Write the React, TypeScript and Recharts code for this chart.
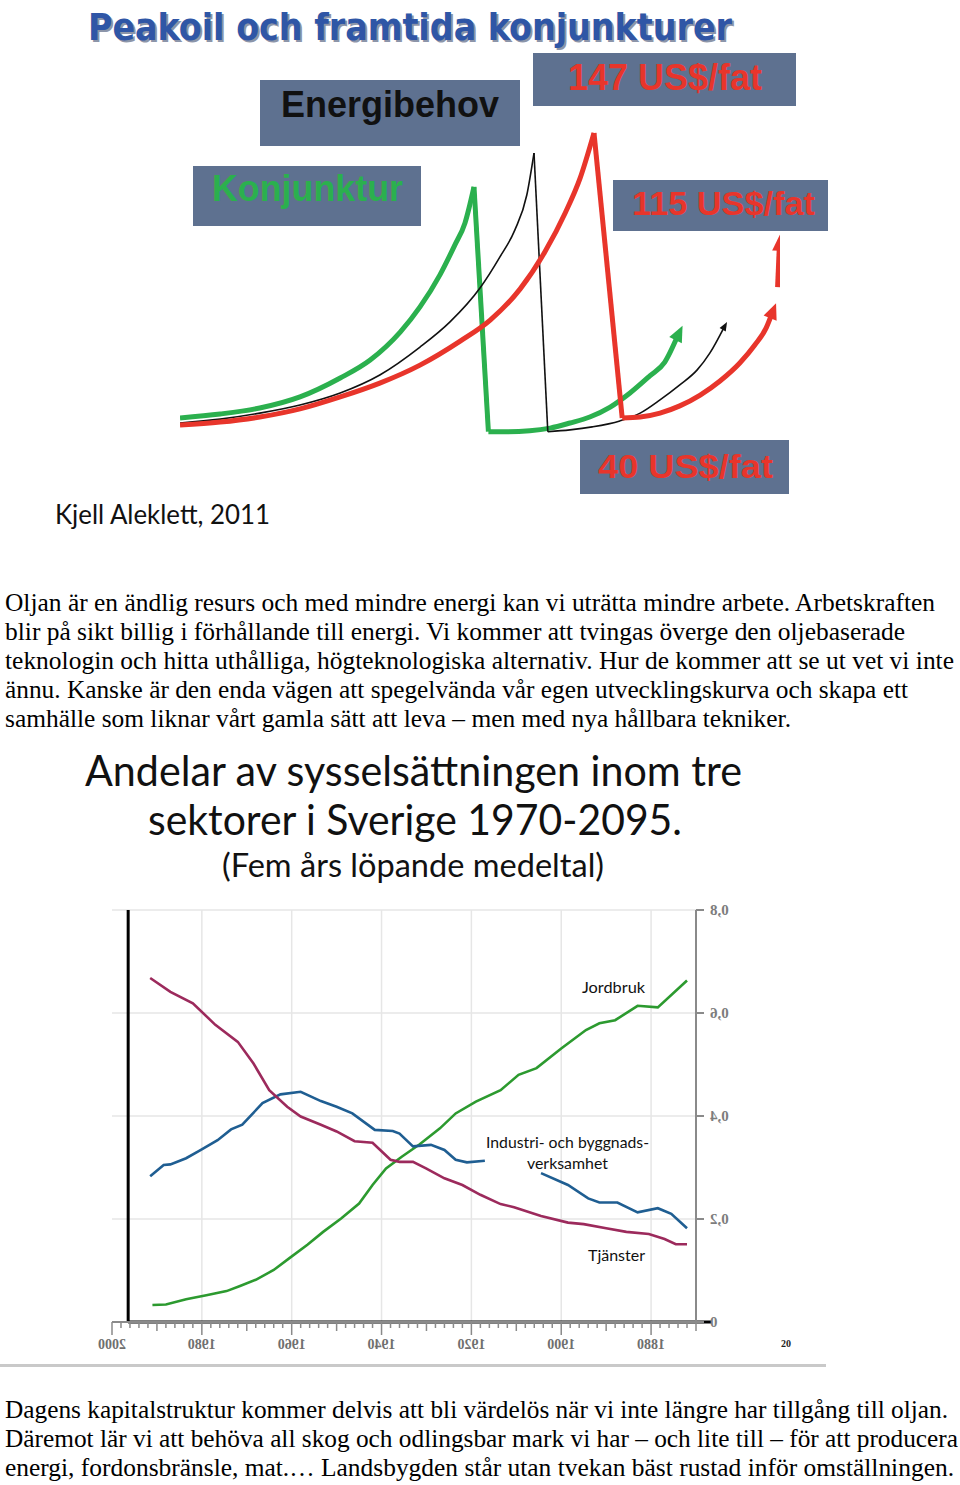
import React from 'react';
import { LineChart, Line, XAxis, YAxis, CartesianGrid, ReferenceLine } from 'recharts';

// ---- Peakoil chart (conceptual: time 0-100, level 0-105) ----
const konjunkturUpT = [0, 6.7, 13.3, 20, 26.7, 31.7, 36.7, 40, 43.3, 45.8, 47.5, 49];
const konjunkturUpV = [5.7, 7, 9, 12.7, 19, 25, 34.3, 42.7, 53.3, 63.3, 70.7, 82.7];
const konjunkturDropT = [49, 51.4];
const konjunkturDropV = [82.7, 1.1];
const konjunkturNextT = [51.4, 54.5, 58.3, 61.7, 65, 68.3, 71.7, 75, 78.3, 80.8, 83];
const konjunkturNextV = [1.1, 1.1, 1.4, 2.3, 4, 6, 9.3, 14, 19.7, 24.3, 33.3];

const energiUpT = [0, 6.7, 13.3, 20, 26.7, 33.3, 40, 45, 50, 53.3, 55.8, 57.8, 59.0];
const energiUpV = [4, 5.3, 7.3, 10, 14, 20, 29.3, 37.7, 49, 59.3, 68.3, 80, 94];
const energiDropT = [59.0, 61.3];
const energiDropV = [94, 1.1];
const energiNextT = [61.3, 65, 68.7, 73.3, 76.7, 80, 83.3, 86.2, 88.3, 90.7];
const energiNextV = [1.1, 1.7, 2.7, 4.7, 7.3, 11.7, 16.7, 21.7, 27.3, 36];

const prisUpT = [0, 6.7, 13.3, 20, 26.7, 33.3, 40, 46.7, 51.7, 56.7, 60.8, 64.2, 66.7, 69];
const prisUpV = [3.3, 4.3, 6, 8.7, 12.7, 17.3, 23.3, 31.3, 38.3, 48.7, 61, 74, 85.7, 100.7];
const prisDropT = [69, 73.7];
const prisDropV = [100.7, 5.7];
const prisNextT = [73.7, 76.7, 80, 83.3, 86.7, 90, 93.3, 95.8, 97.7, 98.7];
const prisNextV = [5.7, 6, 7.3, 9.7, 13.3, 18, 24, 30, 35.7, 40.7];
const prisJumpT = [99.6, 99.9];
const prisJumpV = [49.3, 63.3];

// ---- Sysselsättning 1870-2000 (andel) ----
const tjansterYears = [1991.5, 1987, 1982, 1977, 1972, 1968.5, 1965, 1961, 1958, 1953.5, 1950, 1946, 1942, 1938, 1936, 1933, 1930, 1926, 1922, 1918, 1913.5, 1910.5, 1904.5, 1898.5, 1895, 1890, 1885.5, 1880.5, 1877, 1874.5, 1872];
const tjansterValues = [0.668, 0.641, 0.619, 0.577, 0.544, 0.502, 0.45, 0.418, 0.399, 0.383, 0.37, 0.351, 0.348, 0.315, 0.311, 0.311, 0.298, 0.279, 0.266, 0.247, 0.229, 0.223, 0.206, 0.193, 0.19, 0.182, 0.175, 0.171, 0.161, 0.151, 0.151];

const industriYears = [1991.5, 1988.5, 1987, 1983.5, 1980.5, 1976.5, 1973.5, 1971, 1966.5, 1962.5, 1958, 1953.5, 1950, 1946.5, 1941.5, 1937.5, 1936, 1933, 1929, 1926, 1923.5, 1921, 1917, 1910, 1904.5, 1898.5, 1894, 1891.5, 1887.5, 1883, 1878.5, 1875.5, 1872];
const industriValues = [0.283, 0.305, 0.306, 0.318, 0.333, 0.353, 0.374, 0.383, 0.425, 0.442, 0.447, 0.429, 0.418, 0.405, 0.373, 0.371, 0.366, 0.341, 0.344, 0.334, 0.315, 0.31, 0.313, null, 0.289, 0.266, 0.24, 0.232, 0.232, 0.213, 0.221, 0.21, 0.182];

const jordbrukYears = [1991, 1988, 1983.5, 1979, 1974.5, 1971.5, 1968, 1964, 1960.5, 1956.5, 1953, 1949, 1945, 1942, 1939, 1935.5, 1931.5, 1927, 1923.5, 1919, 1913.5, 1909.5, 1905.5, 1900, 1894.5, 1891.5, 1888, 1883, 1878.5, 1872];
const jordbrukValues = [0.033, 0.034, 0.044, 0.052, 0.06, 0.07, 0.082, 0.101, 0.124, 0.15, 0.175, 0.201, 0.23, 0.266, 0.298, 0.321, 0.345, 0.376, 0.405, 0.428, 0.45, 0.48, 0.493, 0.531, 0.567, 0.58, 0.586, 0.614, 0.611, 0.663];

const yTicks = [0, 0.2, 0.4, 0.6, 0.8];
const gridYears = [1880, 1900, 1920, 1940, 1960, 1980];
const xTickYears = Array.from({ length: 66 }, (_, i) => 1870 + i * 2);

const para1 = [
  'Oljan är en ändlig resurs och med mindre energi kan vi uträtta mindre arbete. Arbetskraften',
  'blir på sikt billig i förhållande till energi. Vi kommer att tvingas överge den oljebaserade',
  'teknologin och hitta uthålliga, högteknologiska alternativ. Hur de kommer att se ut vet vi inte',
  'ännu. Kanske är den enda vägen att spegelvända vår egen utvecklingskurva och skapa ett',
  'samhälle som liknar vårt gamla sätt att leva – men med nya hållbara tekniker.',
];
const para2 = [
  'Dagens kapitalstruktur kommer delvis att bli värdelös när vi inte längre har tillgång till oljan.',
  'Däremot lär vi att behöva all skog och odlingsbar mark vi har – och lite till – för att producera',
  'energi, fordonsbränsle, mat.… Landsbygden står utan tvekan bäst rustad inför omställningen.',
];

const zip = (t: number[], v: (number | null)[]) => t.map((x, i) => ({ t: x, v: v[i] }));

const GREEN = '#2bb04e';
const RED = '#e8352b';
const BOX = '#5e7190';

// arrowhead drawn on the last point of a series, oriented along the last segment
const arrowDot = (color: string, len: number, half: number) => (props: any) => {
  const { cx, cy, index, points } = props;
  if (!points || index !== points.length - 1 || index < 1) return <g key={`a${index}`} />;
  const prev = points[index - 1];
  let dx = cx - prev.x;
  let dy = cy - prev.y;
  const d = Math.hypot(dx, dy) || 1;
  dx /= d;
  dy /= d;
  const bx = cx - dx * len * 0.35;
  const by = cy - dy * len * 0.35;
  const tx = cx + dx * len * 0.65;
  const ty = cy + dy * len * 0.65;
  const nx = -dy;
  const ny = dx;
  return (
    <polygon
      key={`a${index}`}
      points={`${tx},${ty} ${bx + nx * half},${by + ny * half} ${bx - nx * half},${by - ny * half}`}
      fill={color}
    />
  );
};

const seg = (key: string, data: any[], color: string, width: number, type: any, dot: any = false) => (
  <Line
    key={key}
    data={data}
    dataKey="v"
    type={type}
    stroke={color}
    strokeWidth={width}
    dot={dot}
    activeDot={false}
    isAnimationActive={false}
  />
);

const MirrorYTick = ({ x, y, payload }: any) => (
  <g transform={`translate(${x + 4},${y})`}>
    <text transform="scale(-1,1)" textAnchor="end" dy={5} fontSize={15} fill="#7d7d7d" fontFamily="'Liberation Serif', serif" fontWeight="bold">
      {payload.value === 0 ? '0' : payload.value.toFixed(1).replace('.', ',')}
    </text>
  </g>
);

const MirrorXTick = ({ x, y, payload }: any) => {
  const yr = payload.value;
  const len = yr % 20 === 0 ? 13 : yr % 10 === 0 ? 9 : 6;
  return (
    <g>
      <line x1={x} x2={x} y1={y} y2={y + len} stroke="#8a8a8a" strokeWidth={1.5} />
      {yr % 20 === 0 ? (
        <g transform={`translate(${x},${y + 27})`}>
          <text transform="scale(-1,1)" textAnchor="middle" fontSize={14} fill="#6f6f6f" fontFamily="'Liberation Serif', serif" fontWeight="bold">
            {yr}
          </text>
        </g>
      ) : null}
    </g>
  );
};

const Box = ({ x, y, w, h }: any) => <rect x={x} y={y} width={w} height={h} fill={BOX} />;

const App = () => {
  return (
    <div style={{ position: 'absolute', left: 0, top: 0, width: 960, height: 1485, background: '#fff', overflow: 'hidden' }}>
      {/* Peakoil chart */}
      <div style={{ position: 'absolute', left: 0, top: 0 }}>
        <LineChart width={960} height={560} margin={{ top: 120, right: 180, bottom: 125, left: 180 }}>
          <XAxis type="number" dataKey="t" domain={[0, 100]} hide allowDataOverflow />
          <YAxis type="number" domain={[0, 105]} hide allowDataOverflow />
          {seg('g1', zip(konjunkturUpT, konjunkturUpV), GREEN, 5, 'monotone')}
          {seg('g2', zip(konjunkturDropT, konjunkturDropV), GREEN, 5, 'linear')}
          {seg('g3', zip(konjunkturNextT, konjunkturNextV), GREEN, 5, 'monotone', arrowDot(GREEN, 16, 7))}
          {seg('b1', zip(energiUpT, energiUpV), '#111', 1.6, 'monotone')}
          {seg('b2', zip(energiDropT, energiDropV), '#111', 1.6, 'linear')}
          {seg('b3', zip(energiNextT, energiNextV), '#111', 1.6, 'monotone', arrowDot('#111', 9, 3.5))}
          {seg('r1', zip(prisUpT, prisUpV), RED, 5, 'monotone')}
          {seg('r2', zip(prisDropT, prisDropV), RED, 5, 'linear')}
          {seg('r3', zip(prisNextT, prisNextV), RED, 5, 'monotone', arrowDot(RED, 16, 7))}
          {seg('r4', zip(prisJumpT, prisJumpV), RED, 5, 'linear', arrowDot(RED, 16, 7))}
        </LineChart>
      </div>

      {/* Sysselsättning chart */}
      <div style={{ position: 'absolute', left: 60, top: 880 }}>
        <LineChart width={760} height={480} margin={{ top: 30, right: 64, bottom: 8, left: 52 }}>
          <CartesianGrid vertical={false} stroke="#e6e6e6" strokeWidth={1.5} />
          {gridYears.map((yr) => (
            <ReferenceLine key={yr} x={yr} stroke="#e6e6e6" strokeWidth={1.5} />
          ))}
          <XAxis
            type="number"
            dataKey="t"
            domain={[1870, 2000]}
            reversed
            ticks={xTickYears}
            interval={0}
            tickLine={false}
            tickSize={0}
            tickMargin={0}
            height={30}
            axisLine={{ stroke: '#8a8a8a', strokeWidth: 2 }}
            tick={<MirrorXTick />}
          />
          <YAxis
            type="number"
            orientation="right"
            domain={[0, 0.8]}
            ticks={yTicks}
            width={60}
            tickSize={8}
            tickLine={{ stroke: '#8a8a8a', strokeWidth: 2 }}
            axisLine={{ stroke: '#8a8a8a', strokeWidth: 2 }}
            tick={<MirrorYTick />}
          />
          <Line data={zip(jordbrukYears, jordbrukValues)} dataKey="v" type="linear" stroke="#2c9a2f" strokeWidth={2.6} dot={false} activeDot={false} isAnimationActive={false} />
          <Line data={zip(industriYears, industriValues)} dataKey="v" type="linear" stroke="#1f5e92" strokeWidth={2.6} dot={false} activeDot={false} connectNulls={false} isAnimationActive={false} />
          <Line data={zip(tjansterYears, tjansterValues)} dataKey="v" type="linear" stroke="#9c2a5c" strokeWidth={2.6} dot={false} activeDot={false} isAnimationActive={false} />
          <ReferenceLine segment={[{ x: 1996.4, y: 0 }, { x: 1996.4, y: 0.8 }]} stroke="#000" strokeWidth={3} ifOverflow="visible" />
          <ReferenceLine segment={[{ x: 1996.4, y: 0 }, { x: 1866.5, y: 0 }]} stroke="#000" strokeWidth={3} ifOverflow="visible" />
        </LineChart>
      </div>

      {/* texts and label boxes */}
      <svg width={960} height={1485} style={{ position: 'absolute', left: 0, top: 0, pointerEvents: 'none' }}>
        <text x={90} y={42} textLength={644} lengthAdjust="spacingAndGlyphs" fontSize={38} fontWeight="bold" fontFamily="'DejaVu Sans Condensed', 'DejaVu Sans', sans-serif" fill="#1c2d55" opacity={0.5}>
          Peakoil och framtida konjunkturer
        </text>
        <text x={88} y={40} textLength={644} lengthAdjust="spacingAndGlyphs" fontSize={38} fontWeight="bold" fontFamily="'DejaVu Sans Condensed', 'DejaVu Sans', sans-serif" fill="#2f56a6">
          Peakoil och framtida konjunkturer
        </text>

        <g fontFamily="'Liberation Sans', Arial, sans-serif" fontWeight="bold">
          <Box x={533} y={53} w={263} h={53} />
          <text x={568} y={90} textLength={194} lengthAdjust="spacingAndGlyphs" fontSize={36} fill={RED}>147 US$/fat</text>
          <Box x={260} y={80} w={260} h={66} />
          <text x={281} y={117} textLength={218} lengthAdjust="spacingAndGlyphs" fontSize={36} fill="#111">Energibehov</text>
          <Box x={193} y={166} w={228} h={60} />
          <text x={212} y={201} textLength={191} lengthAdjust="spacingAndGlyphs" fontSize={36} fill={GREEN}>Konjunktur</text>
          <Box x={613} y={180} w={215} h={51} />
          <text x={632} y={215} textLength={183} lengthAdjust="spacingAndGlyphs" fontSize={34} fill={RED}>115 US$/fat</text>
          <Box x={580} y={440} w={209} h={54} />
          <text x={598} y={478} textLength={175} lengthAdjust="spacingAndGlyphs" fontSize={34} fill={RED}>40 US$/fat</text>
        </g>

        <text x={55} y={524} textLength={215} lengthAdjust="spacingAndGlyphs" fontSize={27} fontFamily="Lato, sans-serif" fill="#111">
          Kjell Aleklett, 2011
        </text>

        <g fontFamily="'Liberation Serif', 'Times New Roman', serif" fontSize={25} fill="#000">
          {para1.map((line, i) => (
            <text key={i} x={5} y={611 + i * 29} textLength={[930, 900, 949, 903, 786][i]} lengthAdjust="spacingAndGlyphs">
              {line}
            </text>
          ))}
          {para2.map((line, i) => (
            <text key={i} x={5} y={1418 + i * 29} textLength={[943, 953, 949][i]} lengthAdjust="spacingAndGlyphs">
              {line}
            </text>
          ))}
        </g>

        <g fontFamily="Lato, sans-serif" fill="#111">
          <text x={85} y={786} textLength={657} lengthAdjust="spacingAndGlyphs" fontSize={42}>Andelar av sysselsättningen inom tre</text>
          <text x={148} y={835} textLength={534} lengthAdjust="spacingAndGlyphs" fontSize={42}>sektorer i Sverige 1970-2095.</text>
          <text x={222} y={877} textLength={382} lengthAdjust="spacingAndGlyphs" fontSize={33}>(Fem års löpande medeltal)</text>
          <text x={582} y={993} textLength={63} lengthAdjust="spacingAndGlyphs" fontSize={16}>Jordbruk</text>
          <text x={486} y={1148} textLength={163} lengthAdjust="spacingAndGlyphs" fontSize={16}>Industri- och byggnads-</text>
          <text x={527} y={1169} textLength={81} lengthAdjust="spacingAndGlyphs" fontSize={16}>verksamhet</text>
          <text x={588} y={1261} textLength={57} lengthAdjust="spacingAndGlyphs" fontSize={16}>Tjänster</text>
        </g>
        <text x={781} y={1347} fontSize={10} fontWeight="bold" fontFamily="'Liberation Serif', serif" fill="#222">20</text>
        <rect x={0} y={1364} width={826} height={3} fill="#c9c9c9" />
      </svg>
    </div>
  );
};

export default App;
